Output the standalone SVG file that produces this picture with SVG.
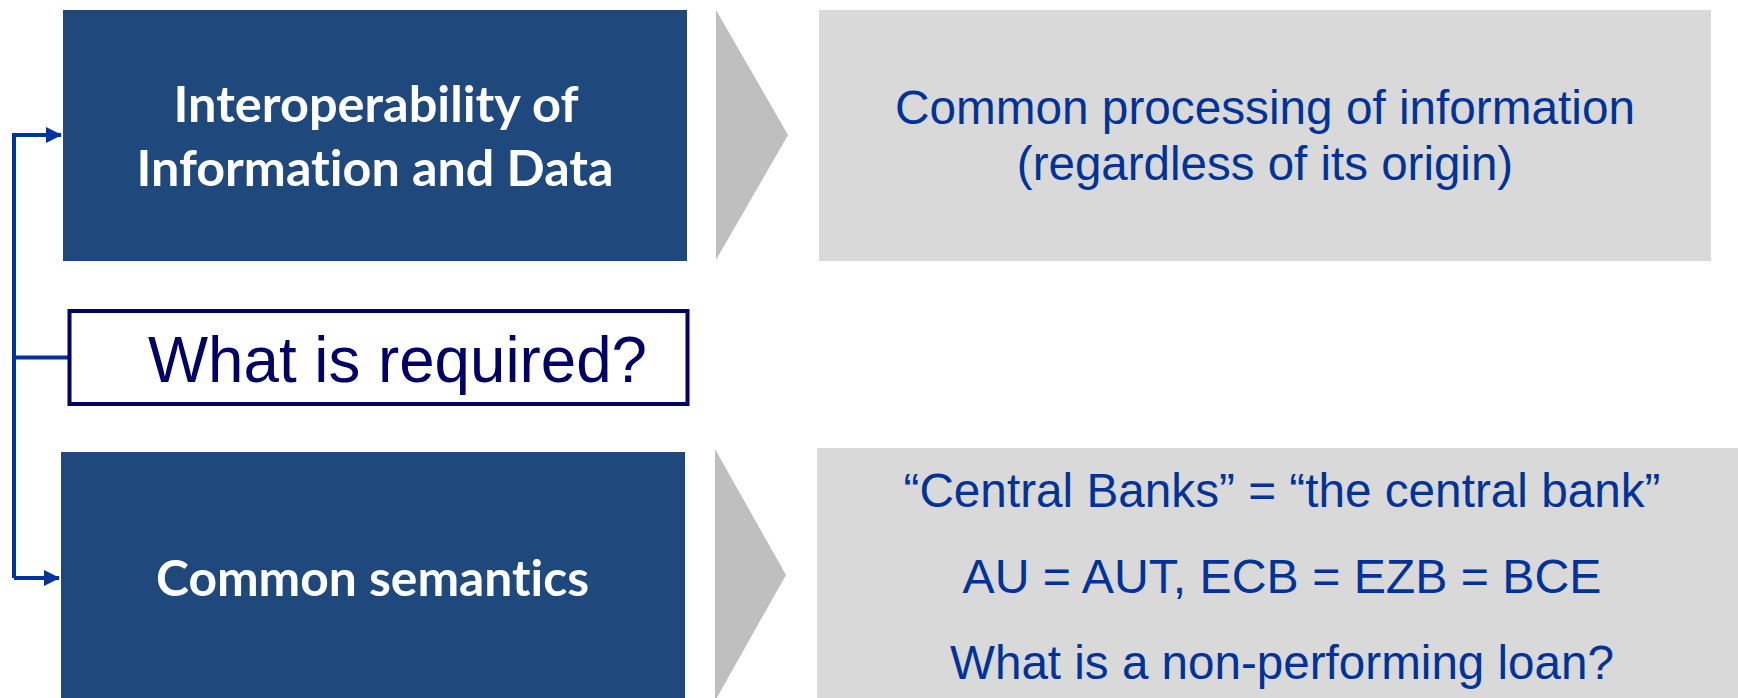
<svg xmlns="http://www.w3.org/2000/svg" width="1738" height="698" viewBox="0 0 1738 698">
  <defs>
    <style>
      .topic { fill: #1f497d; }
      .topic-label { font-family: Lato, "Open Sans", "Noto Sans", sans-serif; font-weight: 700; font-size: 50px; fill: #ffffff; text-anchor: middle; font-variant-ligatures: none; }
      .chevron { fill: #bfbfbf; }
      .detail { fill: #d9d9d9; }
      .detail-label { font-family: "Liberation Sans", Arial, sans-serif; font-size: 47.5px; fill: #003399; text-anchor: middle; }
      .question-box { fill: #ffffff; stroke: #000066; stroke-width: 4; }
      .question-label { font-family: "Liberation Sans", Arial, sans-serif; font-size: 64px; fill: #000066; }
      .link { fill: none; stroke: #0033a0; stroke-width: 4; }
    </style>
    <marker id="arrow" viewBox="0 0 16 16" refX="15" refY="8" markerWidth="16" markerHeight="16" markerUnits="userSpaceOnUse" orient="auto">
      <path d="M0,0 L16,8 L0,16 Z" fill="#0033a0"/>
    </marker>
  </defs>

  <!-- connectors from the question box to both topics -->
  <g id="connectors">
    <path class="link" d="M14,578 L14,135 L61,135" marker-end="url(#arrow)"/>
    <path class="link" d="M14,578 L59,578" marker-end="url(#arrow)"/>
    <path class="link" d="M14,357.5 L69,357.5"/>
  </g>

  <g id="topic-interoperability">
    <rect class="topic" x="63" y="10" width="624" height="251"/>
    <text class="topic-label" x="376" y="122" textLength="405" lengthAdjust="spacingAndGlyphs">Interoperability of</text>
    <text class="topic-label" x="375" y="186" textLength="477" lengthAdjust="spacingAndGlyphs">Information and Data</text>
  </g>

  <g id="chevron-top">
    <polygon class="chevron" points="716,10 788,135 716,260"/>
  </g>

  <g id="detail-processing">
    <rect class="detail" x="819" y="10" width="892" height="251"/>
    <text class="detail-label" x="1265" y="124" textLength="740" lengthAdjust="spacingAndGlyphs">Common processing of information</text>
    <text class="detail-label" x="1265" y="180">(regardless of its origin)</text>
  </g>

  <g id="question">
    <rect class="question-box" x="69.5" y="311" width="618" height="93"/>
    <text class="question-label" x="148" y="381.5" textLength="499" lengthAdjust="spacingAndGlyphs">What is required?</text>
  </g>

  <g id="topic-semantics">
    <rect class="topic" x="61" y="452" width="624" height="250"/>
    <text class="topic-label" x="372.5" y="596" textLength="433" lengthAdjust="spacingAndGlyphs">Common semantics</text>
  </g>

  <g id="chevron-bottom">
    <polygon class="chevron" points="715,449 786,575 715,701"/>
  </g>

  <g id="detail-semantics">
    <rect class="detail" x="817" y="448" width="925" height="254"/>
    <text class="detail-label" x="1282" y="507" textLength="757" lengthAdjust="spacingAndGlyphs">“Central Banks” = “the central bank”</text>
    <text class="detail-label" x="1282" y="593" textLength="639" lengthAdjust="spacingAndGlyphs">AU = AUT, ECB = EZB = BCE</text>
    <text class="detail-label" x="1282" y="679" textLength="664" lengthAdjust="spacingAndGlyphs">What is a non-performing loan?</text>
  </g>
</svg>
